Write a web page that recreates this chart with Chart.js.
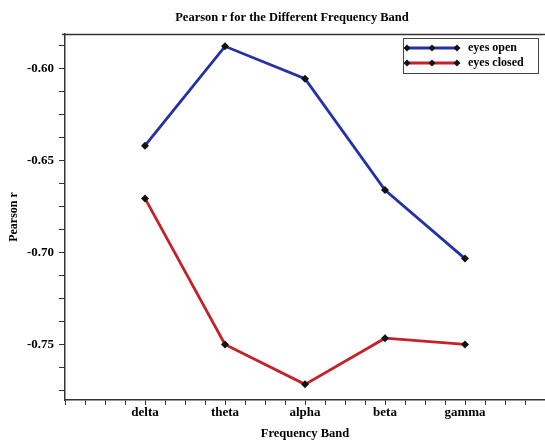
<!DOCTYPE html>
<html>
<head>
<meta charset="utf-8">
<script src="https://cdn.jsdelivr.net/npm/chart.js@4/dist/chart.umd.min.js"></script>
<style>
html,body{margin:0;padding:0;background:#fff;}
#wrap{width:545px;height:441px;}
</style>
</head>
<body>
<div id="wrap"><canvas id="c" width="545" height="441"></canvas></div>
<script>
const categories = ['delta', 'theta', 'alpha', 'beta', 'gamma'];
const eyesOpen = [-0.6417, -0.5877, -0.6053, -0.6658, -0.7031];
const eyesClosed = [-0.6704, -0.7498, -0.7715, -0.7464, -0.7498];
const yTickLabels = [-0.60, -0.65, -0.70, -0.75];
const seriesNames = ['eyes open', 'eyes closed'];
const chartTitle = 'Pearson r for the Different Frequency Band';

const FONT = "'Liberation Serif', 'DejaVu Serif', serif";
const BLUE = '#2530a8';
const RED = '#c42228';

const toPoints = vals => vals.map((v, i) => ({x: i, y: v}));

const frame = {
  id: 'frame',
  afterDraw(chart) {
    const {ctx, chartArea: a} = chart;
    ctx.save();
    // title
    ctx.fillStyle = '#000';
    ctx.font = 'bold 12.5px ' + FONT;
    ctx.textAlign = 'center';
    ctx.textBaseline = 'middle';
    ctx.fillText(chartTitle, 292, 18);
    // top frame line
    ctx.strokeStyle = '#333';
    ctx.lineWidth = 1.5;
    ctx.beginPath();
    ctx.moveTo(a.left - 3, a.top + 0.5);
    ctx.lineTo(a.right, a.top + 0.5);
    ctx.stroke();
    // legend
    const bx = 403, by = 38, bw = 135, bh = 35;
    ctx.fillStyle = '#fff';
    ctx.fillRect(bx, by, bw, bh);
    ctx.strokeStyle = '#444';
    ctx.lineWidth = 1;
    ctx.strokeRect(bx + 0.5, by + 0.5, bw, bh);
    const rows = [[by + 10, BLUE, seriesNames[0]], [by + 25, RED, seriesNames[1]]];
    rows.forEach(([yy, col, txt]) => {
      ctx.strokeStyle = col;
      ctx.lineWidth = 3;
      ctx.beginPath();
      ctx.moveTo(406, yy);
      ctx.lineTo(458, yy);
      ctx.stroke();
      ctx.fillStyle = '#111';
      [407, 432, 457].forEach(px => {
        ctx.beginPath();
        ctx.moveTo(px, yy - 3.5); ctx.lineTo(px + 3.5, yy); ctx.lineTo(px, yy + 3.5); ctx.lineTo(px - 3.5, yy);
        ctx.closePath(); ctx.fill();
      });
      ctx.fillStyle = '#000';
      ctx.font = 'bold 12px ' + FONT;
      ctx.textBaseline = 'middle';
      ctx.textAlign = 'left';
      ctx.fillText(txt, 468, yy);
    });
    ctx.restore();
  }
};

new Chart(document.getElementById('c'), {
  type: 'line',
  data: {
    datasets: [
      {label: seriesNames[0], data: toPoints(eyesOpen), borderColor: BLUE, borderWidth: 2.8,
       pointStyle: 'rectRot', pointRadius: 4, pointBackgroundColor: '#111', pointBorderColor: '#111', pointBorderWidth: 0, tension: 0},
      {label: seriesNames[1], data: toPoints(eyesClosed), borderColor: RED, borderWidth: 2.8,
       pointStyle: 'rectRot', pointRadius: 4, pointBackgroundColor: '#111', pointBorderColor: '#111', pointBorderWidth: 0, tension: 0}
    ]
  },
  options: {
    responsive: false,
    animation: false,
    devicePixelRatio: 1,
    layout: {autoPadding: false, padding: {left: 0, right: 0, top: 34, bottom: 0}},
    plugins: {
      legend: {display: false},
      tooltip: {enabled: false},
      title: {display: false}
    },
    scales: {
      x: {
        type: 'linear',
        min: -1, max: 5,
        afterBuildTicks(scale) {
          const t = [];
          for (let i = 0; i <= 24; i++) t.push({value: -1 + i * 0.25});
          scale.ticks = t;
        },
        afterFit(scale) { scale.height = 41; },
        ticks: {
          autoSkip: false, maxRotation: 0,
          color: '#000', padding: 0,
          font: {family: FONT, size: 13, weight: 'bold'},
          callback(v) {
            const r = Math.round(v);
            return (Math.abs(v - r) < 1e-6 && r >= 0 && r < categories.length) ? categories[r] : '';
          }
        },
        grid: {drawOnChartArea: false, drawTicks: true, tickLength: 5, color: '#333', tickWidth: 1},
        border: {display: true, color: '#333', width: 1.5},
        title: {display: true, text: 'Frequency Band', color: '#000',
                font: {family: FONT, size: 12.5, weight: 'bold'}, padding: {top: 0, bottom: 0}}
      },
      y: {
        min: -0.78, max: -0.581,
        afterBuildTicks(scale) {
          const t = [];
          for (let i = 0; i <= 15; i++) t.push({value: -0.775 + i * 0.0125});
          scale.ticks = t;
        },
        afterFit(scale) { scale.width = 65; },
        ticks: {
          autoSkip: false, color: '#000', padding: 5,
          font: {family: FONT, size: 13, weight: 'bold'},
          callback(v) {
            const hit = yTickLabels.find(l => Math.abs(l - v) < 1e-6);
            return hit !== undefined ? hit.toFixed(2) : '';
          }
        },
        grid: {drawOnChartArea: false, drawTicks: true, tickLength: 6, color: '#333', tickWidth: 1},
        border: {display: true, color: '#333', width: 1.5},
        title: {display: true, text: 'Pearson r', color: '#000',
                font: {family: FONT, size: 12, weight: 'bold'}, padding: {top: 7, bottom: 0}}
      }
    }
  },
  plugins: [frame]
});
</script>
</body>
</html>
